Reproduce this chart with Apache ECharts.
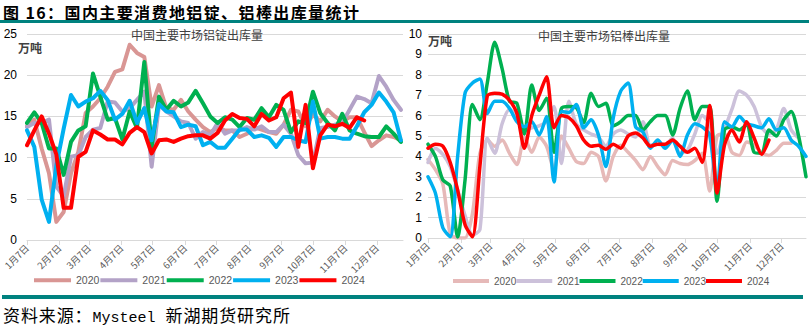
<!DOCTYPE html>
<html>
<head>
<meta charset="utf-8">
<script src="https://cdn.jsdelivr.net/npm/echarts@6/dist/echarts.min.js"></script>
<style>
  html, body { margin: 0; padding: 0; background: #fff; }
  #wrap { position: relative; width: 809px; height: 326px; overflow: hidden; }
  #chart { position: absolute; left: 0; top: 0; width: 809px; height: 326px; }
  #head { position: absolute; left: 3px; top: 0px; font: bold 16px "Noto Sans CJK SC", sans-serif; color: #000; line-height: normal; white-space: nowrap; letter-spacing: 1.4px; }
  #barTop { position: absolute; left: 0; top: 20px; width: 809px; height: 3px; background: #00827F; }
  #barBottom { position: absolute; left: 2px; top: 295px; width: 801px; height: 4px; background: #00827F; }
  #foot { position: absolute; left: 3px; top: 305px; font: 17px "Noto Sans CJK SC", sans-serif; color: #000; line-height: 20px; white-space: nowrap; letter-spacing: 0.9px; }
  #foot .en { font: 15px "Liberation Mono", monospace; letter-spacing: 0; margin-right: 10px; }
</style>
</head>
<body>
<div id="wrap">
  <div id="chart"></div>
  <div id="head">图 16：国内主要消费地铝锭、铝棒出库量统计</div>
  <div id="barTop"></div>
  <div id="barBottom"></div>
  <div id="foot">资料来源：<span class="en">Mysteel</span>新湖期货研究所</div>
</div>
<script>
// Weekly outbound volumes (万吨), one value per week starting 1月7日
const years = ['2020', '2021', '2022', '2023', '2024'];

const ingot2020 = [13.8,14.6,11.1,8.1,2.2,3.4,8.1,10.7,15.4,16.2,17.2,18.6,20.4,20.7,23.7,22.7,22.2,16.2,18.8,16.0,15.8,17.0,15.6,14.6,13.7,13.1,13.6,13.3,13.3,12.5,12.9,13.7,13.4,13.1,12.9,14.0,15.8,15.6,13.8,15.2,14.4,15.8,15.0,14.4,14.9,14.9,13.1,11.4,12.1,12.7,12.5,12.1];
const ingot2021 = [13.7,14.2,14.2,14.6,6.5,5.3,10.1,10.3,12.5,13.4,13.6,16.8,16.7,15.6,16.0,17.0,18.0,8.9,16.4,15.6,15.0,14.4,14.2,12.3,13.1,12.7,14.2,12.9,13.3,13.3,13.7,13.4,13.8,13.1,13.1,14.0,12.9,10.3,9.3,9.4,13.6,13.7,14.0,14.2,15.8,17.4,17.1,16.6,19.9,18.6,17.0,15.8];
const ingot2022 = [14.2,15.5,14.2,11.1,11.1,7.9,11.9,13.3,13.8,20.2,17.4,14.6,14.8,12.2,15.6,13.6,21.6,11.3,17.4,15.8,16.9,16.2,16.7,18.1,16.6,15.0,14.2,14.9,14.6,13.7,14.8,14.6,16.0,14.9,16.4,15.8,13.1,14.4,14.2,18.0,15.4,14.2,13.3,15.3,13.3,12.9,12.6,12.5,12.5,13.8,12.9,11.9];
const ingot2023 = [13.3,11.3,4.9,2.2,9.0,13.5,17.6,16.2,16.8,17.2,18.1,17.0,14.6,15.3,16.9,14.2,16.0,12.1,16.5,15.6,15.5,13.7,14.0,13.8,11.5,11.9,11.2,11.2,12.3,13.4,13.4,12.5,12.7,12.4,11.3,12.5,12.5,12.1,11.9,16.8,12.3,12.5,12.5,12.3,12.3,13.8,15.5,16.4,17.9,16.8,15.5,12.1];
const ingot2024 = [11.5,13.3,15.0,12.9,10.4,3.9,3.9,10.1,10.7,13.3,12.8,12.2,12.2,11.6,13.0,13.7,13.1,10.5,12.1,12.2,11.9,12.3,12.6,12.7,12.7,12.3,13.0,14.5,15.3,14.8,14.7,13.8,15.3,14.5,14.9,17.2,17.9,11.3,16.4,8.7,12.7,14.0,13.8,14.1,13.6,14.9,14.5];

const rod2020 = [3.85,3.35,2.65,0.2,0.0,0.0,1.2,4.15,4.8,4.5,4.8,4.15,3.6,4.95,4.2,4.95,4.5,3.35,5.0,4.4,3.75,3.65,4.2,4.0,2.8,4.0,4.55,4.2,3.8,3.35,4.0,3.5,3.1,3.8,3.65,3.6,3.8,4.15,2.3,5.0,5.1,4.2,4.05,4.7,4.55,4.2,4.05,4.3,4.65,4.65];
const rod2021 = [3.7,4.4,4.1,3.5,2.35,1.1,0.15,0.4,4.9,4.15,5.6,6.3,6.0,5.3,5.4,5.5,5.7,6.45,3.65,6.7,5.6,5.3,5.1,4.95,4.5,5.1,5.3,5.1,4.95,5.7,4.55,4.6,4.55,4.9,4.15,4.3,5.1,6.0,5.6,4.15,5.3,6.3,7.2,7.0,6.45,5.45,5.1,5.3,6.35,5.3,4.9];
const rod2022 = [4.6,4.0,2.85,2.55,0.05,2.85,6.55,5.8,7.6,9.6,8.3,6.7,6.6,5.1,7.5,6.25,6.85,4.2,6.35,6.45,6.4,5.65,7.1,6.45,6.6,5.5,5.7,6.0,6.0,5.3,5.7,6.0,6.0,5.05,6.35,7.2,5.8,6.45,6.45,1.8,5.3,5.45,5.3,5.55,4.2,4.15,5.3,5.0,5.8,6.2,5.0,3.0];
const rod2023 = [3.0,2.2,0.5,0.06,4.0,7.1,7.6,7.8,6.1,6.7,6.7,6.35,5.7,5.45,5.7,5.05,5.95,2.75,6.2,6.15,6.55,5.4,5.8,5.05,3.5,5.9,7.2,7.6,5.45,5.2,4.4,4.8,4.4,4.8,4.0,5.05,5.6,5.45,5.05,2.35,5.7,5.45,5.95,5.6,5.5,5.4,5.85,5.3,5.4,4.8,4.5,4.0];
const rod2024 = [4.4,4.6,4.5,3.7,2.35,0.65,0.06,3.5,6.96,7.1,7.05,6.75,6.1,4.4,6.0,7.0,7.9,5.4,6.0,5.9,5.5,4.8,4.5,4.55,4.35,4.6,4.4,5.0,5.15,4.9,4.5,4.6,4.6,4.8,4.5,4.2,4.4,3.7,6.5,2.2,4.55,5.3,4.7,5.7,4.9,4.1,4.8];

// Axis ticks: the 7th of every month, counted in days from 1月7日
const monthTickDays = [0, 31, 59, 90, 120, 151, 181, 212, 243, 273, 304, 334];
const monthLabels = ['1月7日','2月7日','3月7日','4月7日','5月7日','6月7日','7月7日','8月7日','9月7日','10月7日','11月7日','12月7日'];

const ingotSeriesData = [ingot2020, ingot2021, ingot2022, ingot2023, ingot2024];
const rodSeriesData = [rod2020, rod2021, rod2022, rod2023, rod2024];

const ingotColors = ['#D99694', '#B3A2C7', '#00B050', '#00B0F0', '#FF0000'];
const rodColors = ['#E6B9B8', '#CCC1DA', '#00B050', '#00B0F0', '#FF0000'];

const FONT = '"Liberation Sans", "Noto Sans CJK SC", sans-serif';
const CJK = '"Noto Sans CJK SC", sans-serif';

function toPoints(values) {
  // one observation per week
  return values.map((v, i) => [i * 7, v]);
}

function xAxis(gridIndex, max) {
  const labelMap = {};
  monthTickDays.forEach((d, i) => { labelMap[d] = monthLabels[i]; });
  return {
    type: 'value', gridIndex: gridIndex, min: 0, max: max,
    axisLine: { show: true, lineStyle: { color: '#D9D9D9', width: 1 } },
    axisTick: { show: true, customValues: monthTickDays, length: 5, lineStyle: { color: '#D9D9D9' } },
    axisLabel: {
      customValues: monthTickDays, rotate: 45, margin: 6,
      fontSize: 9.5, color: '#595959', fontFamily: CJK,
      formatter: v => labelMap[v] || ''
    },
    splitLine: { show: false }
  };
}

function yAxis(gridIndex, max, interval, margin) {
  return {
    type: 'value', gridIndex: gridIndex, min: 0, max: max, interval: interval,
    axisLine: { show: false }, axisTick: { show: false },
    axisLabel: { fontSize: 12, color: '#000', fontFamily: FONT, margin: margin },
    splitLine: { lineStyle: { color: '#D9D9D9', width: 1 } }
  };
}

const series = [];
years.forEach((y, k) => {
  series.push({
    name: y, type: 'line', xAxisIndex: 0, yAxisIndex: 0,
    data: toPoints(ingotSeriesData[k]), showSymbol: false, smooth: false,
    lineStyle: { color: ingotColors[k], width: 4, join: 'round', cap: 'round' },
    itemStyle: { color: ingotColors[k] }, emphasis: { disabled: true }, animation: false
  });
});
years.forEach((y, k) => {
  series.push({
    name: y, type: 'line', xAxisIndex: 1, yAxisIndex: 1,
    data: toPoints(rodSeriesData[k]), showSymbol: false, smooth: 0.25,
    lineStyle: { color: rodColors[k], width: 3.5, join: 'round', cap: 'round' },
    itemStyle: { color: rodColors[k] }, emphasis: { disabled: true }, animation: false
  });
});

function legend(left, top, colors, iconWidth, fontSize, gap) {
  return {
    left: left, top: top, orient: 'horizontal', icon: 'rect', padding: 0,
    itemWidth: iconWidth, itemHeight: 4, itemGap: gap, selectedMode: false,
    textStyle: { fontSize: fontSize, color: '#595959', fontFamily: FONT },
    data: years.map((y, k) => ({ name: y, itemStyle: { color: colors[k] } }))
  };
}

const chart = echarts.init(document.getElementById('chart'), null, { renderer: 'svg' });
chart.setOption({
  animation: false,
  grid: [
    { left: 27, top: 34, width: 376, height: 206 },
    { left: 428, top: 34, width: 378, height: 204 }
  ],
  xAxis: [xAxis(0, 359), xAxis(1, 357)],
  yAxis: [yAxis(0, 25, 5, 10), yAxis(1, 10, 1, 6)],
  title: [
    { text: '中国主要市场铝锭出库量', left: 131, top: 28, padding: 0,
      textStyle: { fontSize: 12, fontWeight: 'normal', color: '#404040', fontFamily: CJK } },
    { text: '中国主要市场铝棒出库量', left: 538, top: 29, padding: 0,
      textStyle: { fontSize: 12, fontWeight: 'normal', color: '#404040', fontFamily: CJK } },
    { text: '万吨', left: 18, top: 41, padding: 0,
      textStyle: { fontSize: 12, fontWeight: 'bold', color: '#404040', fontFamily: CJK } },
    { text: '万吨', left: 428, top: 34, padding: 0,
      textStyle: { fontSize: 12, fontWeight: 'bold', color: '#404040', fontFamily: CJK } }
  ],
  legend: [
    legend(34, 275, ingotColors, 37, 10.5, 1),
    legend(453, 276, rodColors, 36, 10, 0)
  ],
  series: series
});
</script>
</body>
</html>
